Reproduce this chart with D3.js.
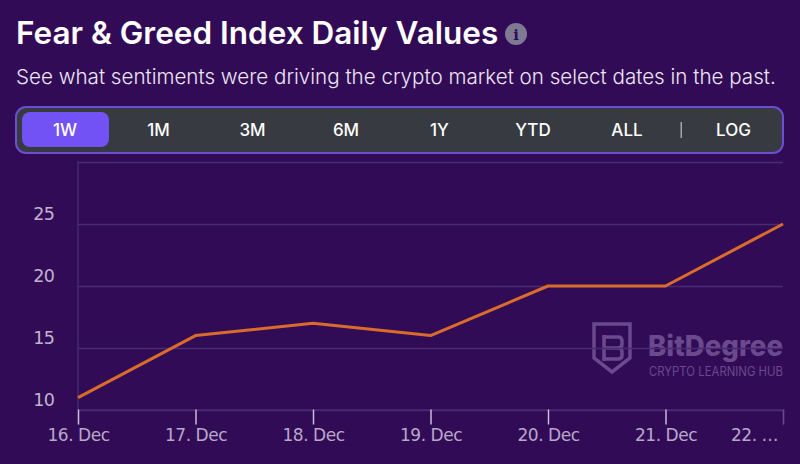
<!DOCTYPE html>
<html><head><meta charset="utf-8">
<script src="https://cdnjs.cloudflare.com/ajax/libs/d3/7.8.5/d3.min.js"></script>
<style>html,body{margin:0;padding:0;background:#320b57;overflow:hidden}svg{display:block}</style>
</head><body><svg id="c" width="800" height="464"></svg>
<script>
const dates=["16. Dec","17. Dec","18. Dec","19. Dec","20. Dec","21. Dec","22. …"];
const values=[11,16,17,16,20,20,25];
const yTicks=[10,15,20,25,30];
const yLabels=[10,15,20,25];
const ranges=["1W","1M","3M","6M","1Y","YTD","ALL"];
const rangeX=[65,158.5,252.5,346,439.5,533,627];
const title="Fear & Greed Index Daily Values";
const subtitle="See what sentiments were driving the crypto market on select dates in the past.";

const svg=d3.select("#c");
const sans="Inter, 'Open Sans', sans-serif";
svg.append("rect").attr("width",800).attr("height",464).attr("fill","#320b57");

svg.append("text").attr("x",16).attr("y",44).attr("font-family",sans).attr("font-size",31.5).attr("font-weight",600).attr("fill","#fff").text(title);
const info=svg.append("g").attr("transform","translate(516,34)");
info.append("circle").attr("r",11).attr("fill","#7f7a94");
info.append("text").attr("text-anchor","middle").attr("y",5.5).attr("font-family","'DejaVu Serif',serif").attr("font-weight",700).attr("font-size",15).attr("fill","#320b57").text("i");
svg.append("text").attr("x",16).attr("y",84).attr("font-family",sans).attr("font-size",20.6).attr("font-weight",300).attr("fill","#ece6f2").text(subtitle);

svg.append("rect").attr("x",16).attr("y",107).attr("width",767).attr("height",46).attr("rx",10).attr("fill","#373a40").attr("stroke","#6a4fd0").attr("stroke-width",2);
svg.append("rect").attr("x",22).attr("y",112).attr("width",87).attr("height",35).attr("rx",8).attr("fill","#7352f5");
svg.selectAll("text.r").data(ranges).join("text").attr("class","r")
 .attr("x",(d,i)=>rangeX[i]).attr("y",136).attr("text-anchor","middle")
 .attr("font-family",sans).attr("font-weight",500).attr("font-size",17).attr("fill","#fff").text(d=>d);
svg.append("text").attr("x",733.5).attr("y",136).attr("text-anchor","middle").attr("font-family",sans).attr("font-weight",500).attr("font-size",17).attr("fill","#fff").text("LOG");
svg.append("rect").attr("x",680.5).attr("y",122).attr("width",1.5).attr("height",16).attr("fill","#a5a6ab");

const x=d3.scalePoint().domain(dates).range([78,783]);
const y=d3.scaleLinear().domain([10,30]).range([410,162]);

// watermark
const wm=svg.append("g").attr("fill","#6a4a8c");
const sh=wm.append("g").attr("fill","none").attr("stroke","#6a4a8c").attr("stroke-width",3.5);
sh.append("path").attr("d","M594 324H630V358L612 372L594 358Z");
sh.append("path").attr("d","M603 337H618Q622 337 622 341V344Q622 348 618 348H603M618 348Q622 348 622 352V355Q622 359 618 359H603M604 335V361");
wm.append("text").attr("x",648).attr("y",356).attr("font-family",sans).attr("font-weight",800).attr("font-size",28).attr("textLength",135).attr("lengthAdjust","spacingAndGlyphs").text("BitDegree");
wm.append("text").attr("x",649).attr("y",376).attr("font-family",sans).attr("font-size",12.5).attr("textLength",134).attr("lengthAdjust","spacingAndGlyphs").text("CRYPTO LEARNING HUB");

// y axis
const ya=svg.append("g").attr("transform","translate(78,0)")
 .call(d3.axisLeft(y).tickValues(yTicks).tickSize(-705).tickPadding(24).tickFormat(d=>yLabels.includes(d)?d:""));
ya.select(".domain").attr("stroke","#4a2a70").attr("stroke-width",1.5).attr("d","M0,161V410");
ya.selectAll("line").attr("stroke","#4a2a70").attr("stroke-width",1.5);
ya.selectAll("text").attr("font-family","'DejaVu Sans',sans-serif").attr("font-size",17.5).attr("fill","#c0b4cc").attr("letter-spacing",-.8).attr("dy",d=>d==10?"-0.25em":"-0.28em");

// x axis
const xa=svg.append("g").attr("transform","translate(0,409.5)")
 .call(d3.axisBottom(x).tickSize(15).tickPadding(4));
xa.select(".domain").attr("stroke","#4a2a70").attr("stroke-width",1.5);
xa.selectAll("line").attr("stroke","#c9bcd6").attr("stroke-width",1.5);
xa.selectAll(".tick").filter((d,i)=>i==6).select("line").attr("stroke","#6a4a8c");
xa.selectAll("text").attr("font-family","'DejaVu Sans',sans-serif").attr("font-size",17).attr("fill","#b8a8c8").attr("letter-spacing",-.45);
xa.selectAll(".tick").filter((d,i)=>i==6).select("text").attr("dx",-29);

const line=d3.line().x((d,i)=>x(dates[i])).y(d=>y(d));
svg.append("path").datum(values).attr("d",line).attr("fill","none").attr("stroke","#d96c2a").attr("stroke-width",3).attr("stroke-linejoin","round");
</script></body></html>
